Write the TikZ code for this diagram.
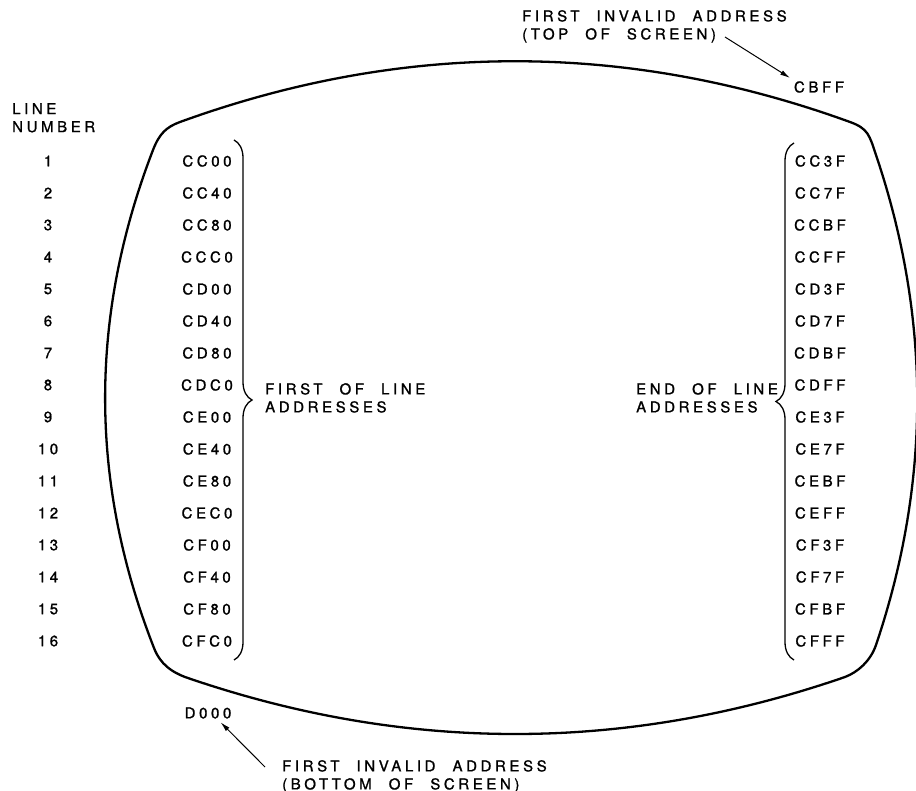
\documentclass[tikz,border=0pt]{standalone}
\usepackage{fontspec}
\setmainfont{TeX Gyre Heros}[LetterSpace=24, WordSpace=2.2, FakeBold=1.2]
\usetikzlibrary{arrows.meta, decorations.pathreplacing}

\begin{document}
\begin{tikzpicture}[x=1pt, y=-1pt,
    addr/.style={inner sep=2pt, font=\fontsize{15}{18}\selectfont},
    note/.style={inner sep=0pt, anchor=north west, align=left, font=\fontsize{15}{18}\selectfont},
    screen/.style={line width=2.3pt, line join=round},
    bracket/.style={line width=1.3pt, decorate, decoration={brace, amplitude=18pt}},
    pointer/.style={line width=1pt, -{Latex[length=10pt, width=5pt]}, shorten >=2pt}]

    \useasboundingbox (0,0) rectangle (916,791);

    % Screen outline
    \draw[screen] (180,122) .. controls (403,41) and (627,41) .. (850,122)
        .. controls (868,128.5) and (869.4,135) .. (876,155)
        .. controls (931,318) and (931,482) .. (876,645)
        .. controls (870.5,661) and (858,672) .. (845,677)
        .. controls (625,753) and (405,753) .. (185,677)
        .. controls (172,672) and (160.5,664.6) .. (154,648)
        .. controls (89,482) and (89,316) .. (153,150)
        .. controls (159.4,133.4) and (166.6,126.9) .. cycle;

    % Line numbers and addresses
    \node[note] (linehead) at (12,103) {LINE\\NUMBER};
    \foreach \n/\first/\last in {1/CC00/CC3F, 2/CC40/CC7F, 3/CC80/CCBF, 4/CCC0/CCFF,
        5/CD00/CD3F, 6/CD40/CD7F, 7/CD80/CDBF, 8/CDC0/CDFF, 9/CE00/CE3F, 10/CE40/CE7F,
        11/CE80/CEBF, 12/CEC0/CEFF, 13/CF00/CF3F, 14/CF40/CF7F, 15/CF80/CFBF, 16/CFC0/CFFF}{
        \node[addr] (num\n) at (48,{161+32*(\n-1)}) {\n};
        \node[addr] (first\n) at (207,{161+32*(\n-1)}) {\first};
        \node[addr] (last\n) at (820,{161+32*(\n-1)}) {\last};
    }

    % Braces and their labels
    \draw[bracket] (234,140) -- (234,660);
    \node[note] (firsthead) at (265,383) {FIRST OF LINE\\ADDRESSES};
    \draw[bracket] (794,660) -- (794,143);
    \node[note] (endhead) at (636,383) {END OF LINE\\ADDRESSES};

    % First invalid addresses
    \node[addr] (cbff) at (819,87) {CBFF};
    \node[note] (topnote) at (522,10) {FIRST INVALID ADDRESS\\(TOP OF SCREEN)};
    \coordinate (topstart) at (725,37);
    \draw[pointer] (topstart) -- (cbff.north west);

    \node[addr] (d000) at (208,713) {D000};
    \node[note] (botnote) at (282,760) {FIRST INVALID ADDRESS\\(BOTTOM OF SCREEN)};
    \coordinate (botstart) at (265,767);
    \draw[pointer] (botstart) -- (d000.-35);

\end{tikzpicture}
\end{document}
